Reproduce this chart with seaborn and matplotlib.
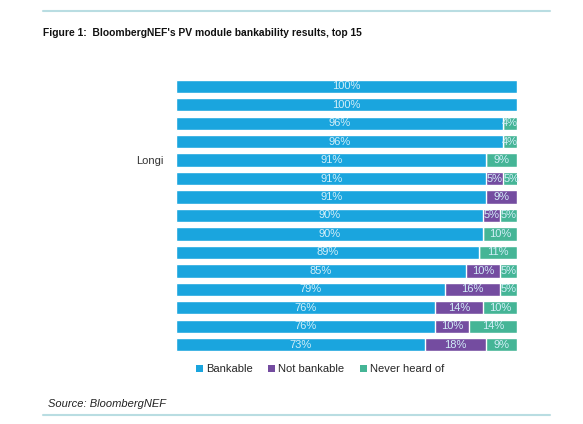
import seaborn as sns
import pandas as pd
import numpy as np
import matplotlib.pyplot as plt
from matplotlib.patches import Patch
from matplotlib.lines import Line2D

companies = ["", "", "", "", "Longi", "", "", "", "", "", "", "", "", "", ""]
bankable = [100, 100, 96, 96, 91, 91, 91, 90, 90, 89, 85, 79, 76, 76, 73]
not_bankable = [0, 0, 0, 0, 0, 5, 9, 5, 0, 0, 10, 16, 14, 10, 18]
never_heard = [0, 0, 4, 4, 9, 5, 0, 5, 10, 11, 5, 5, 10, 14, 9]
series = ["Bankable", "Not bankable", "Never heard of"]
colors = ["#1AA5DE", "#744CA0", "#45B596"]

df = pd.DataFrame({
    "rank": [str(i) for i in range(len(companies))],
    "bankable": bankable,
    "not_bankable": not_bankable,
    "never_heard": never_heard,
})
df["cum2"] = df["bankable"] + df["not_bankable"]
df["cum3"] = df["cum2"] + df["never_heard"]

sns.set_style("white")
plt.rcParams["font.family"] = ["Liberation Sans", "DejaVu Sans"]

fig = plt.figure(figsize=(5.83, 4.24), dpi=100)
ax = fig.add_axes([176 / 583, 1 - 354 / 424, 341 / 583, 277 / 424])

# stacked by overdrawing cumulative totals
sns.barplot(data=df, x="cum3", y="rank", color=colors[2], width=0.72,
            saturation=1, ax=ax, orient="h")
sns.barplot(data=df, x="cum2", y="rank", color=colors[1], width=0.72,
            saturation=1, ax=ax, orient="h")
sns.barplot(data=df, x="bankable", y="rank", color=colors[0], width=0.72,
            saturation=1, ax=ax, orient="h")

lab_col = "#D2EEF8"
for i in range(len(df)):
    b, n, h = bankable[i], not_bankable[i], never_heard[i]
    ax.text(b / 2, i, f"{b}%", ha="center", va="center", fontsize=8, color=lab_col)
    if n > 0:
        ax.text(b + n / 2, i, f"{n}%", ha="center", va="center", fontsize=8, color=lab_col)
    if h > 0:
        ax.text(b + n + h / 2, i, f"{h}%", ha="center", va="center", fontsize=8, color=lab_col)

ax.set_xlim(0, 100)
ax.set_ylim(14.5, -0.5)
ax.set_yticks(range(len(companies)))
ax.set_yticklabels(companies, fontsize=8, color="#333333")
ax.tick_params(axis="y", length=0, pad=9)
ax.set_xticks([])
ax.set_xlabel("")
ax.set_ylabel("")
sns.despine(ax=ax, left=True, bottom=True)

handles = [Patch(facecolor=c, edgecolor="none") for c in colors]
fig.legend(handles, series, loc="center", bbox_to_anchor=(320 / 583, 1 - 369 / 424),
           ncol=3, frameon=False, fontsize=8, handlelength=0.6, handleheight=0.6,
           handletextpad=0.3, columnspacing=1.4)

fig.text(43 / 583, 1 - 33 / 424, "Figure 1:  BloombergNEF's PV module bankability results, top 15",
         fontsize=7.4, fontweight="bold", ha="left", va="center", color="#111111")
fig.text(48 / 583, 1 - 404 / 424, "Source: BloombergNEF", fontsize=8, style="italic",
         ha="left", va="center", color="#222222")

for yy in [11, 415]:
    fig.add_artist(Line2D([43 / 583, 550 / 583], [1 - yy / 424, 1 - yy / 424],
                          color="#B9DDE2", lw=1.5))

fig.savefig("out.png", dpi=100)
